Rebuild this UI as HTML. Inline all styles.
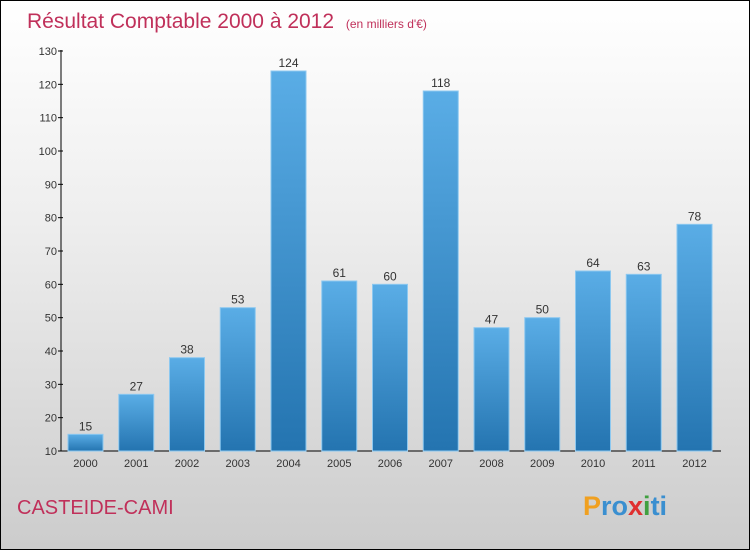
<!DOCTYPE html>
<html><head><meta charset="utf-8"><style>
body{margin:0}
#c{position:relative;width:748px;height:548px;border:1px solid #000;background:linear-gradient(#fff 0%,#eee 40%,#ccc 100%);font-family:"Liberation Sans",sans-serif;overflow:hidden}
</style></head><body>
<div id="c">
<svg id="s" width="748" height="548">
<defs><linearGradient id="g" x1="0" y1="0" x2="0" y2="1"><stop offset="0" stop-color="#5aade6"/><stop offset="1" stop-color="#2474b0"/></linearGradient></defs>
<text x="26" y="27" font-size="21" fill="#c0305a">Résultat Comptable 2000 à 2012 <tspan font-size="12" dx="6">(en milliers d'€)</tspan></text>
<text x="16" y="513" font-size="20" fill="#c0305a">CASTEIDE-CAMI</text>
<text x="582" y="514" font-size="27" font-weight="bold" fill="#3a8fd0"><tspan fill="#f0a020">P</tspan><tspan fill="#3a8fd0">ro</tspan><tspan fill="#e03030">x</tspan><tspan fill="#40a040">i</tspan><tspan fill="#3a8fd0">ti</tspan></text>
<g id="plot"></g>
</svg></div>
<script>
const categories=["2000","2001","2002","2003","2004","2005","2006","2007","2008","2009","2010","2011","2012"];
const values=[15,27,38,53,124,61,60,118,47,50,64,63,78];
const yTicks=[10,20,30,40,50,60,70,80,90,100,110,120,130];
const NS="http://www.w3.org/2000/svg";
const g=document.getElementById('plot');
const y=v=>450-(v-10)*400/120;
const x=i=>67+i*50.75;
function el(t,a){const e=document.createElementNS(NS,t);for(const k in a)e.setAttribute(k,a[k]);g.appendChild(e);return e;}
let ax=el('line',{x1:60,y1:49,x2:60,y2:450,stroke:'#000'});

let bx=el('line',{x1:60,y1:450,x2:720,y2:450,stroke:'#000'});

yTicks.forEach(v=>{
 let t=el('line',{x1:57,y1:y(v),x2:62,y2:y(v),stroke:'#000'});
 
 let l=el('text',{x:56,y:y(v)+4,'font-size':11,'text-anchor':'end',fill:'#333'});l.textContent=v;
 
});
values.forEach((v,i)=>{
 let r=el('rect',{x:x(i),y:y(v),width:35,height:450-y(v),fill:'url(#g)',stroke:'#8cc8f0','stroke-width':1});
 
 let t=el('text',{x:x(i)+17.5,y:y(v)-4,'font-size':12,'text-anchor':'middle',fill:'#333'});t.textContent=v;
 
 let c=el('text',{x:x(i)+17.5,y:466,'font-size':11,'text-anchor':'middle',fill:'#333'});c.textContent=categories[i];
 
});
</script>
</body></html>
